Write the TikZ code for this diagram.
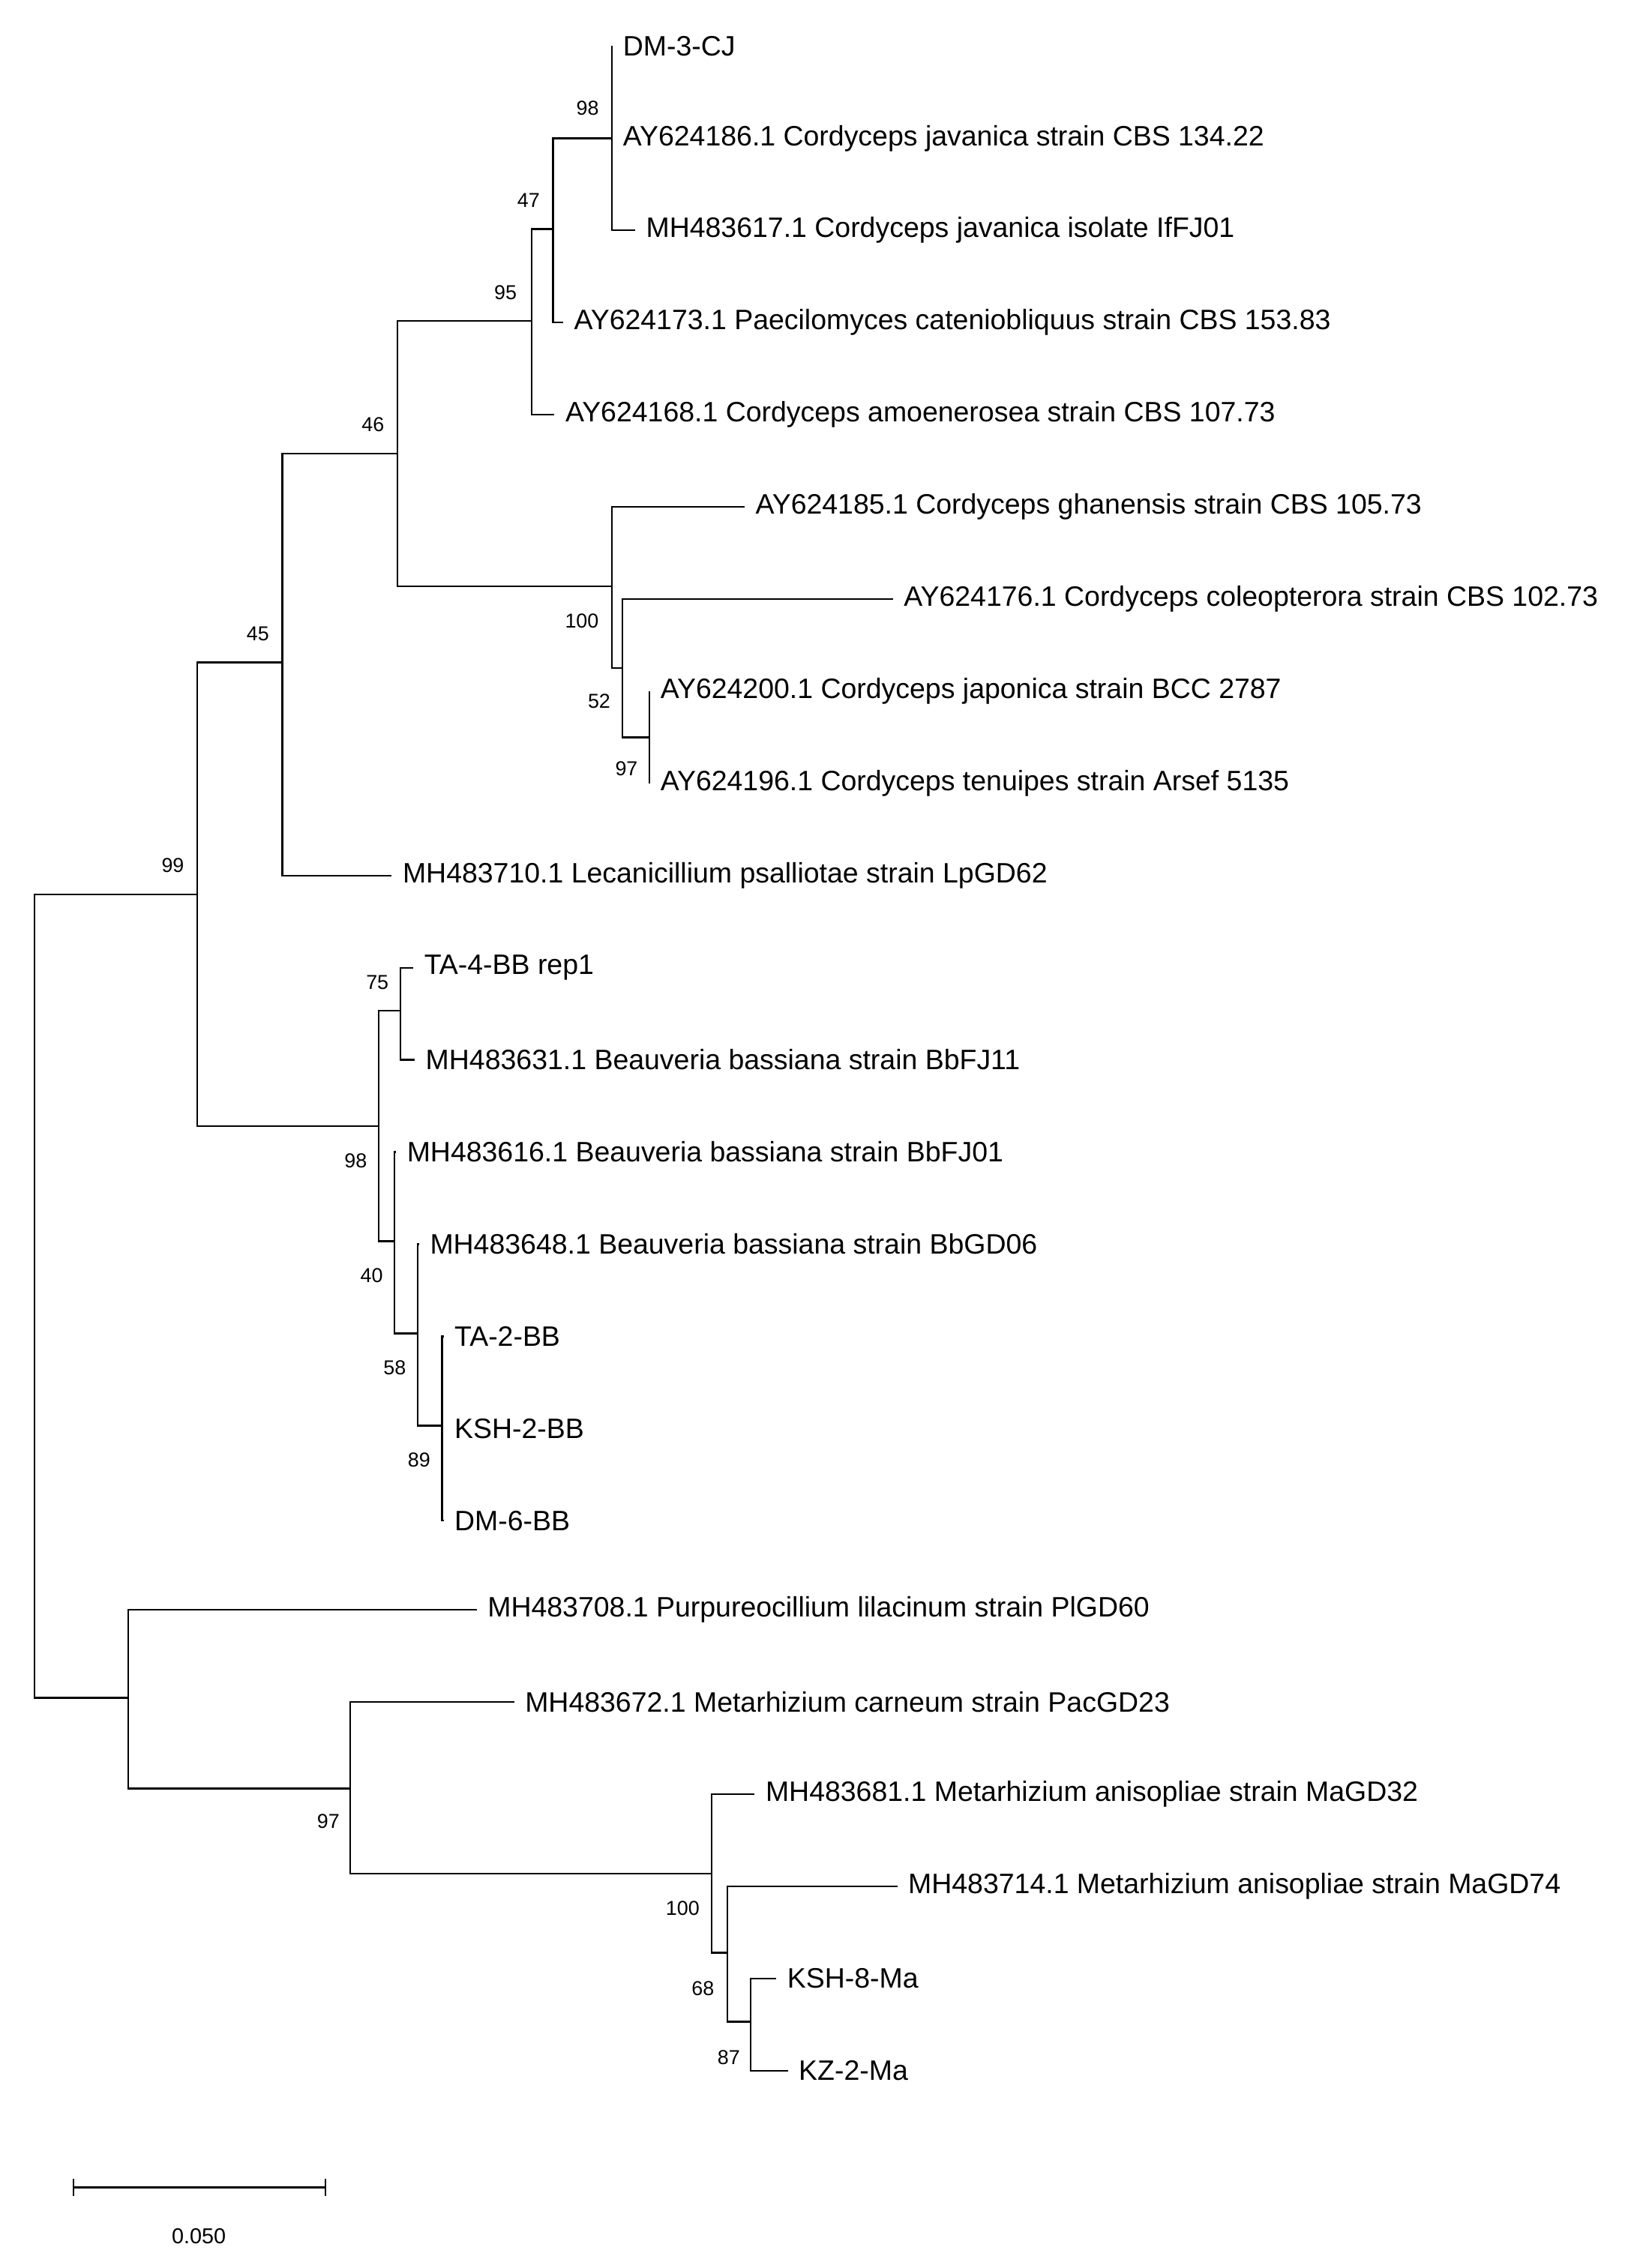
\documentclass[tikz,border=0pt]{standalone}
\usepackage{fontspec}
\setmainfont{Liberation Sans}
\begin{document}
\begin{tikzpicture}[x=1pt,y=-1pt,line width=1.2pt,
 leaf/.style={anchor=west,inner xsep=7pt,inner ysep=0pt,font=\fontsize{19.5}{21}\selectfont},
 bs/.style={font=\fontsize{14}{15}\selectfont,inner sep=0pt}]
\useasboundingbox (0,-4) rectangle (1130,1571);
\foreach \n/\x/\y in {r/24/896,jA/137/617,j45/196/456,j46/276/311,j95/369/219,j47/384/155,j98/425/92,
 jX/425/403,j52/432/460,j97a/451/508,jB/263/778,j75/278/698,j40/274/858,j58/290/922,j89/307/986,
 jC/89/1175,j97b/243/1238,jY/494/1297,j68/505/1352,j87/521/1400}
 \coordinate (\n) at (\x,\y);
\node[leaf] (l1) at (425,28) {DM-3-CJ};
\node[leaf] (l2) at (425,92) {AY624186.1 Cordyceps javanica strain CBS 134.22};
\node[leaf] (l3) at (441,156) {MH483617.1 Cordyceps javanica isolate IfFJ01};
\node[leaf] (l4) at (391,220) {AY624173.1 Paecilomyces cateniobliquus strain CBS 153.83};
\node[leaf] (l5) at (385,284) {AY624168.1 Cordyceps amoenerosea strain CBS 107.73};
\node[leaf] (l6) at (517,348) {AY624185.1 Cordyceps ghanensis strain CBS 105.73};
\node[leaf] (l7) at (620,412) {AY624176.1 Cordyceps coleopterora strain CBS 102.73};
\node[leaf] (l8) at (451,476) {AY624200.1 Cordyceps japonica strain BCC 2787};
\node[leaf] (l9) at (451,540) {AY624196.1 Cordyceps tenuipes strain Arsef 5135};
\node[leaf] (l10) at (272,604) {MH483710.1 Lecanicillium psalliotae strain LpGD62};
\node[leaf] (l11) at (287,668) {TA-4-BB rep1};
\node[leaf] (l12) at (288,732) {MH483631.1 Beauveria bassiana strain BbFJ11};
\node[leaf] (l13) at (275,796) {MH483616.1 Beauveria bassiana strain BbFJ01};
\node[leaf] (l14) at (291,860) {MH483648.1 Beauveria bassiana strain BbGD06};
\node[leaf] (l15) at (308,924) {TA-2-BB};
\node[leaf] (l16) at (308,988) {KSH-2-BB};
\node[leaf] (l17) at (308,1052) {DM-6-BB};
\node[leaf] (l18) at (331,1114) {MH483708.1 Purpureocillium lilacinum strain PlGD60};
\node[leaf] (l19) at (357,1178) {MH483672.1 Metarhizium carneum strain PacGD23};
\node[leaf] (l20) at (524,1242) {MH483681.1 Metarhizium anisopliae strain MaGD32};
\node[leaf] (l21) at (623,1306) {MH483714.1 Metarhizium anisopliae strain MaGD74};
\node[leaf] (l22) at (539,1370) {KSH-8-Ma};
\node[leaf] (l23) at (547,1434) {KZ-2-Ma};
\draw (r) |- (jA); \draw (r) |- (jC);
\draw (jA) |- (j45); \draw (jA) |- (jB);
\draw (j45) |- (j46); \draw (j45) |- (l10.west);
\draw (j46) |- (j95); \draw (j46) |- (jX);
\draw (j95) |- (j47); \draw (j95) |- (l5.west);
\draw (j47) |- (j98); \draw (j47) |- (l4.west);
\draw (j98) |- (l1.west); \draw (j98) |- (l3.west);
\draw (jX) |- (l6.west); \draw (jX) |- (j52);
\draw (j52) |- (l7.west); \draw (j52) |- (j97a);
\draw (j97a) |- (l8.west); \draw (j97a) |- (l9.west);
\draw (jB) |- (j75); \draw (jB) |- (j40);
\draw (j75) |- (l11.west); \draw (j75) |- (l12.west);
\draw (j40) |- (l13.west); \draw (j40) |- (j58);
\draw (j58) |- (l14.west); \draw (j58) |- (j89);
\draw (j89) |- (l15.west); \draw (j89) |- (l17.west);
\draw (jC) |- (l18.west); \draw (jC) |- (j97b);
\draw (j97b) |- (l19.west); \draw (j97b) |- (jY);
\draw (jY) |- (l20.west); \draw (jY) |- (j68);
\draw (j68) |- (l21.west); \draw (j68) |- (j87);
\draw (j87) |- (l22.west); \draw (j87) |- (l23.west);
\foreach \t/\x/\y in {98/408/71,47/367/135,95/351/199,46/259/291,45/179/436,99/120/597,100/404/427,52/416/483,97/435/530,75/262/678,98/247/802,40/258/882,58/274/946,89/291/1010,97/228/1261,100/474/1321,68/488/1377,87/506/1425}
 \node[bs] at (\x,\y) {\t};
\coordinate (s1) at (51,1515); \coordinate (s2) at (226,1515);
\draw (s1) -- (s2);
\draw (51,1509) -- (51,1521); \draw (226,1509) -- (226,1521);
\node[bs,font=\fontsize{15}{17}\selectfont] (sc) at (138,1549) {0.050};
\end{tikzpicture}
\end{document}
